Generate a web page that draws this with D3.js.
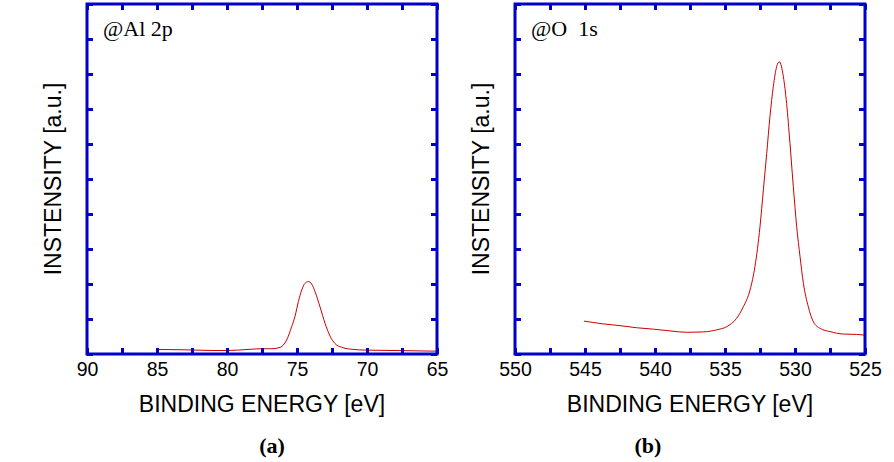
<!DOCTYPE html>
<html><head><meta charset="utf-8">
<script src="https://cdn.jsdelivr.net/npm/d3@7"></script>
<style>
body{margin:0;background:#fff;}
svg text{white-space:pre;}
</style></head>
<body>
<svg id="chart" width="894" height="462"></svg>
<script>
// ---- Data ----
// Panel (a): Al 2p
const alEnergy = [85, 83, 81, 80, 78.5, 77.6, 76.8, 76.2, 75.74, 75.38, 75.14, 74.9, 74.66, 74.43, 74.19, 73.95, 73.71, 73.36, 73.0, 72.64, 72.29, 71.8, 71.2, 70.0, 68, 66.5, 65];
const alIntensity = [0.13, 0.12, 0.10, 0.10, 0.13, 0.15, 0.15, 0.19, 0.40, 0.78, 1.08, 1.50, 1.83, 2.02, 2.07, 2.00, 1.78, 1.35, 0.88, 0.51, 0.30, 0.19, 0.14, 0.11, 0.10, 0.09, 0.08];
// Panel (b): O 1s
const oEnergy = [545.07, 543.69, 542.5, 541.3, 540.12, 538.93, 537.74, 536.55, 535.6, 534.88, 534.17, 533.69, 533.21, 532.86, 532.5, 532.26, 532.02, 531.79, 531.55, 531.31, 531.12, 530.83, 530.6, 530.36, 530.12, 529.88, 529.64, 529.4, 529.05, 528.69, 528.2, 527.5, 526.55, 525.6, 525.0];
const oIntensity = [0.94, 0.86, 0.81, 0.75, 0.71, 0.66, 0.62, 0.63, 0.69, 0.78, 1.02, 1.35, 1.83, 2.5, 3.64, 4.69, 5.73, 6.78, 7.64, 8.21, 8.35, 7.92, 7.16, 6.02, 4.78, 3.64, 2.78, 2.02, 1.35, 0.92, 0.73, 0.64, 0.57, 0.56, 0.54];

const alDomain = [90, 65];
const oDomain = [550, 525];
const alTicks = d3.range(90, 64.9, -2.5);
const oTicks = d3.range(550, 524.9, -2.5);
const yTicks = d3.range(0, 10.01, 1);
const yDomain = [0, 10];

const panels = [
  {left: 87, energy: alEnergy, inten: alIntensity, domain: alDomain, ticks: alTicks, note: "@Al 2p", tag: "(a)", tagX: 272},
  {left: 515, energy: oEnergy, inten: oIntensity, domain: oDomain, ticks: oTicks, note: "@O  1s", tag: "(b)", tagX: 648}
];

const svg = d3.select("#chart");
const W = 350, H = 350, plotTop = 4;
const blue = "#0000c8", red = "#cc0000";
const sans = "'Liberation Sans', Arial, sans-serif";
const serif = "'Liberation Serif', 'Times New Roman', serif";

panels.forEach(p => {
  const g = svg.append("g").attr("transform", `translate(${p.left},${plotTop})`);
  const x = d3.scaleLinear().domain(p.domain).range([0, W]);
  const y = d3.scaleLinear().domain(yDomain).range([H, 0]);

  // line
  const line = d3.line().x((d, i) => x(p.energy[i])).y(d => y(d)).curve(d3.curveMonotoneX);
  g.append("path").datum(p.inten).attr("d", line)
    .attr("fill", "none").attr("stroke", red).attr("stroke-width", 1);

  const fmt = v => (Math.abs(v % 5) < 1e-9 ? String(v) : "");
  // bottom axis
  const gb = g.append("g").attr("transform", `translate(0,${H})`)
    .call(d3.axisBottom(x).tickValues(p.ticks).tickSizeInner(-6).tickSizeOuter(0).tickFormat(fmt));
  gb.selectAll("text").attr("y", 22).attr("dy", null)
    .attr("font-family", sans).attr("font-size", 19.5).attr("fill", "#000");
  // top axis
  g.append("g").call(d3.axisTop(x).tickValues(p.ticks).tickSizeInner(-6).tickSizeOuter(0).tickFormat(""));
  // left / right axes
  g.append("g").call(d3.axisLeft(y).tickValues(yTicks).tickSizeInner(-6).tickSizeOuter(0).tickFormat(""));
  g.append("g").attr("transform", `translate(${W},0)`)
    .call(d3.axisRight(y).tickValues(yTicks).tickSizeInner(-6).tickSizeOuter(0).tickFormat(""));
  g.selectAll(".domain").remove();
  g.selectAll(".tick line").attr("stroke", blue).attr("stroke-width", 3);

  // frame
  g.append("rect").attr("x", 0).attr("y", 0).attr("width", W).attr("height", H)
    .attr("fill", "none").attr("stroke", blue).attr("stroke-width", 3);

  // note
  g.append("text").attr("x", 16).attr("y", 32).text(p.note)
    .attr("font-family", serif).attr("font-size", 22).attr("fill", "#000");

  // axis titles
  g.append("text").attr("x", W / 2).attr("y", 408).attr("text-anchor", "middle")
    .attr("font-family", sans).attr("font-size", 23).attr("fill", "#000")
    .text("BINDING ENERGY [eV]");
  g.append("text").attr("transform", `translate(-26,${H / 2}) rotate(-90)`)
    .attr("text-anchor", "middle")
    .attr("font-family", sans).attr("font-size", 23).attr("fill", "#000")
    .text("INSTENSITY [a.u.]");

  // panel tag
  svg.append("text").attr("x", p.tagX).attr("y", 453).attr("text-anchor", "middle")
    .attr("font-family", serif).attr("font-weight", "bold").attr("font-size", 22).attr("fill", "#000")
    .text(p.tag);
});
</script>
</body></html>
